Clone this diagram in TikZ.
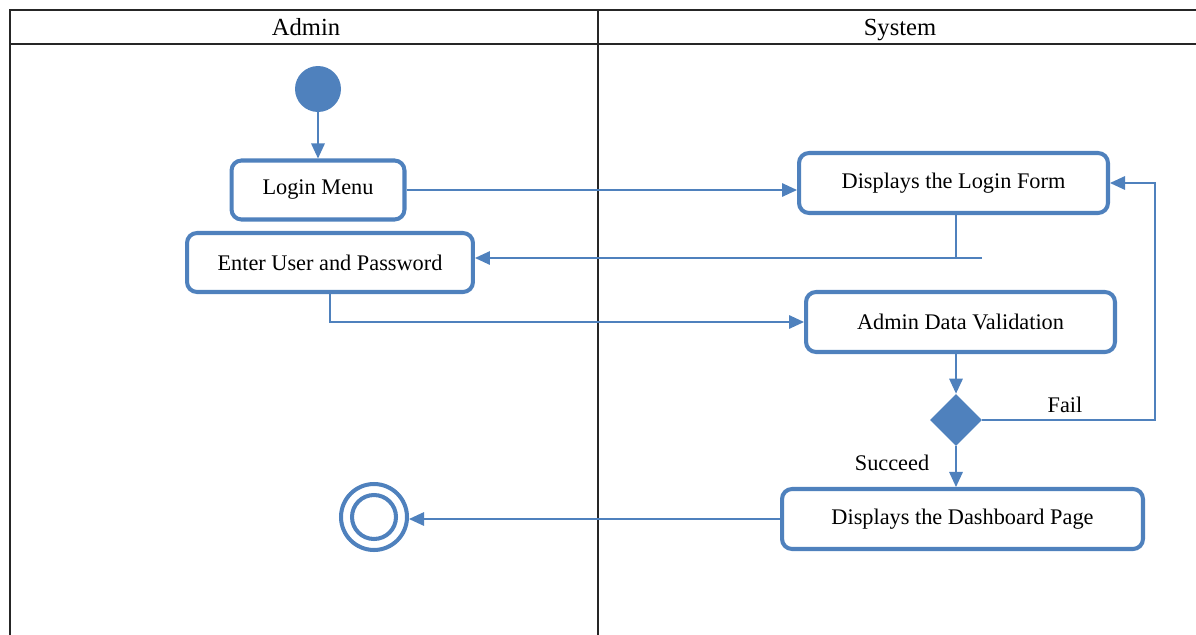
\documentclass[tikz,border=0pt]{standalone}
\usepackage{fontspec}
\setmainfont{Liberation Serif}
\usetikzlibrary{arrows.meta,shapes.geometric}
\definecolor{umlblue}{HTML}{4F81BD}
\begin{document}
\begin{tikzpicture}[x=0.02cm,y=-0.02cm]
	\tikzstyle{lane} = [draw=black!85, line width=1.1pt]
	\tikzstyle{act} = [draw=umlblue, line width=2.3pt, rounded corners=0.2cm, fill=white, inner sep=0, font=\fontsize{12.7}{15}\selectfont]
	\tikzstyle{flow} = [draw=umlblue, line width=0.9pt, -{Triangle[length=0.3cm,width=0.27cm]}]
	\tikzstyle{lbl} = [inner sep=0, font=\fontsize{12.7}{15}\selectfont]
	\tikzstyle{head} = [inner sep=0, anchor=base, font=\fontsize{14}{16}\selectfont]
	\useasboundingbox (0,0) rectangle (1196,635);
	% swimlanes
	\draw [lane] (1196,10) -- (10,10) -- (10,635);
	\draw [lane] (10,44) -- (1196,44);
	\draw [lane] (598,10) -- (598,635);
	\node [head] (h1) at (306,36) {Admin};
	\node [head] (h2) at (900,36) {System};
	
	\node [circle, fill=umlblue, minimum size=0.92cm, inner sep=0] (start) at (318,89) {};
	\node [act, minimum width=3.46cm, minimum height=1.18cm] (login) at (318,190) {Login Menu};
	\node [act, minimum width=5.72cm, minimum height=1.18cm] (enter) at (330,262.5) {Enter User and Password};
	\node [act, minimum width=6.18cm, minimum height=1.2cm] (form) at (953.5,183) {Displays the Login Form};
	\node [act, minimum width=6.18cm, minimum height=1.2cm] (valid) at (960.5,322) {Admin Data Validation};
	\node [diamond, aspect=1, fill=umlblue, minimum size=1.04cm, inner sep=0] (dec) at (956,420) {};
	\node [act, minimum width=7.22cm, minimum height=1.2cm] (dash) at (962.5,519) {Displays the Dashboard Page};
	\node [circle, draw=umlblue, line width=2.3pt, minimum size=1.32cm, inner sep=0] (fin) at (374,517) {};
	\draw [umlblue, line width=2.3pt] (fin.center) circle (0.44cm);
	
	\coordinate (c1) at (982,258);
	\coordinate (c2) at (1155,420);
	\draw [flow] (start) -- (login);
	\draw [flow] (login.east) -- (login.east -| form.west);
	\draw [umlblue, line width=0.9pt] (dec |- form.south) -- (dec |- c1);
	\draw [flow] (c1) -- (c1 -| enter.east);
	\draw [flow] (enter.south) |- (valid.west);
	\draw [flow] (dec.north |- valid.south) -- (dec.north);
	\draw [flow] (dec.east) -- (c2) -- (c2 |- form.east) -- (form.east);
	\node [lbl] (fail) at (1065,405) {Fail};
	\draw [flow] (dec.south) -- (dec.south |- dash.north);
	\node [lbl] (succ) at (892,463) {Succeed};
	\draw [flow] (dash.west) -- (dash.west -| fin.east);
\end{tikzpicture}
\end{document}
